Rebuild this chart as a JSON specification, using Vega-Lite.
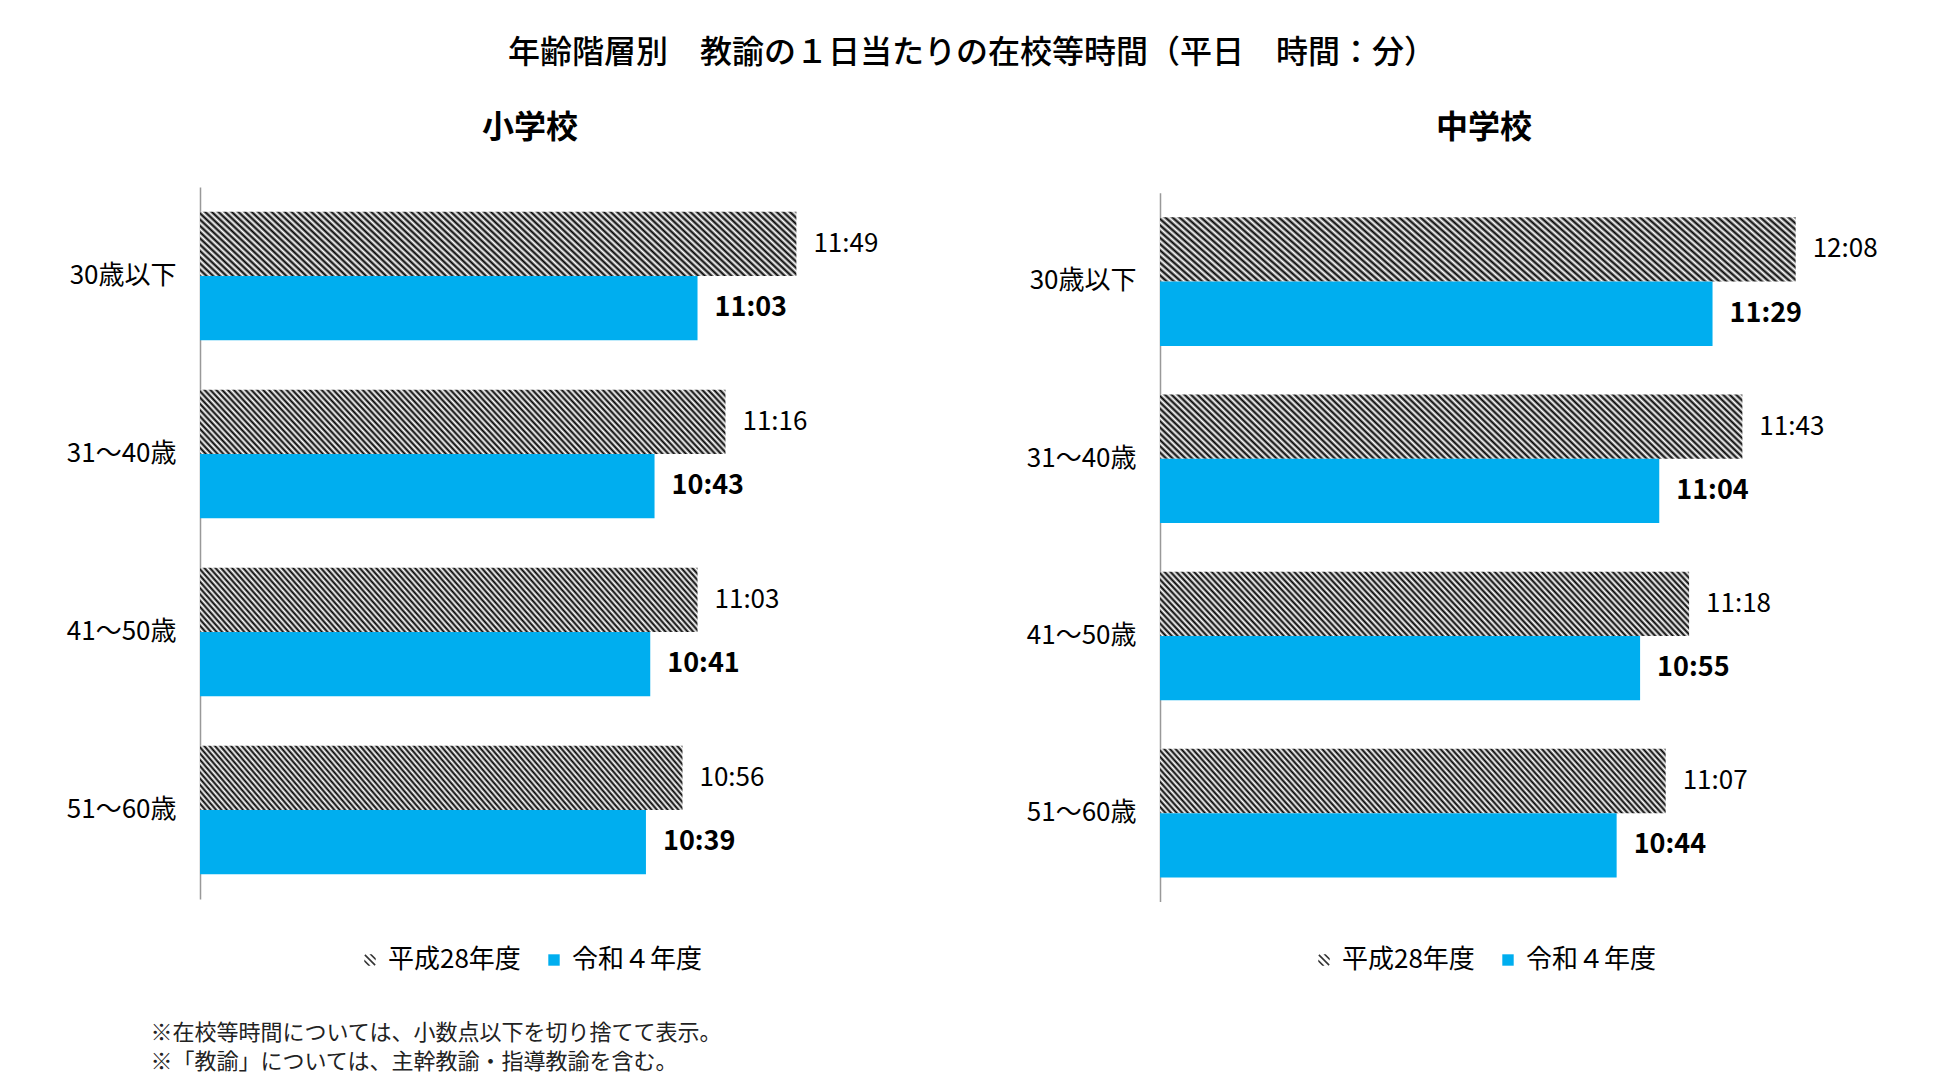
{
"$schema": "https://vega.github.io/schema/vega-lite/v6.json",
"padding": {"left": 66, "top": 37, "right": 5, "bottom": 5},
"background": "white",
"title": {"text": "年齢階層別　教諭の１日当たりの在校等時間（平日　時間：分）", "fontSize": 32, "fontWeight": 500, "offset": 42, "anchor": "middle", "color": "#000", "font": "Noto Sans CJK JP"},
"datasets": {
"elem": [
{"age": "30歳以下", "series": "平成28年度", "minutes": 709, "label": "11:49"},
{"age": "30歳以下", "series": "令和４年度", "minutes": 663, "label": "11:03"},
{"age": "31～40歳", "series": "平成28年度", "minutes": 676, "label": "11:16"},
{"age": "31～40歳", "series": "令和４年度", "minutes": 643, "label": "10:43"},
{"age": "41～50歳", "series": "平成28年度", "minutes": 663, "label": "11:03"},
{"age": "41～50歳", "series": "令和４年度", "minutes": 641, "label": "10:41"},
{"age": "51～60歳", "series": "平成28年度", "minutes": 656, "label": "10:56"},
{"age": "51～60歳", "series": "令和４年度", "minutes": 639, "label": "10:39"}
],
"mid": [
{"age": "30歳以下", "series": "平成28年度", "minutes": 728, "label": "12:08"},
{"age": "30歳以下", "series": "令和４年度", "minutes": 689, "label": "11:29"},
{"age": "31～40歳", "series": "平成28年度", "minutes": 703, "label": "11:43"},
{"age": "31～40歳", "series": "令和４年度", "minutes": 664, "label": "11:04"},
{"age": "41～50歳", "series": "平成28年度", "minutes": 678, "label": "11:18"},
{"age": "41～50歳", "series": "令和４年度", "minutes": 655, "label": "10:55"},
{"age": "51～60歳", "series": "平成28年度", "minutes": 667, "label": "11:07"},
{"age": "51～60歳", "series": "令和４年度", "minutes": 644, "label": "10:44"}
]
},
"columns": 1,
"spacing": 45,
"concat": [
{
"hconcat": [
{
"width": 660, "height": 712,
"title": {"text": "小学校", "fontSize": 32, "fontWeight": "bold", "offset": 42, "frame": "group", "anchor": "middle", "color": "#000"},
"data": {"name": "elem"},
"encoding": {
"y": {"field": "age", "type": "nominal", "sort": null, "scale": {"paddingInner": 0.2775, "paddingOuter": 0.139}, "axis": {"title": null, "ticks": false, "tickSize": 0, "labelPadding": 24, "labelFontSize": 26, "labelColor": "#000", "domainColor": "#999999", "domainWidth": 1.5, "labelFont": "Noto Sans CJK JP"}},
"yOffset": {"field": "series", "type": "nominal", "scale": {"domain": ["平成28年度", "令和４年度"], "paddingInner": 0, "paddingOuter": 0}},
"x": {"field": "minutes", "type": "quantitative", "scale": {"domain": [431.5, 738.6], "nice": false, "zero": false, "clamp": true}, "axis": null}
},
"layer": [
{"transform": [{"filter": "datum.series === '平成28年度'"}], "mark": {"type": "bar", "fill": {"gradient": "linear", "x1": 0, "y1": 1, "x2": 1.1, "y2": 0.8743, "stops": [{"offset":0,"color":"#000"},{"offset":0.005,"color":"#fff"},{"offset":0.01,"color":"#000"},{"offset":0.015,"color":"#fff"},{"offset":0.02,"color":"#000"},{"offset":0.025,"color":"#fff"},{"offset":0.03,"color":"#000"},{"offset":0.035,"color":"#fff"},{"offset":0.04,"color":"#000"},{"offset":0.045,"color":"#fff"},{"offset":0.05,"color":"#000"},{"offset":0.055,"color":"#fff"},{"offset":0.06,"color":"#000"},{"offset":0.065,"color":"#fff"},{"offset":0.07,"color":"#000"},{"offset":0.075,"color":"#fff"},{"offset":0.08,"color":"#000"},{"offset":0.085,"color":"#fff"},{"offset":0.09,"color":"#000"},{"offset":0.095,"color":"#fff"},{"offset":0.1,"color":"#000"},{"offset":0.105,"color":"#fff"},{"offset":0.11,"color":"#000"},{"offset":0.115,"color":"#fff"},{"offset":0.12,"color":"#000"},{"offset":0.125,"color":"#fff"},{"offset":0.13,"color":"#000"},{"offset":0.135,"color":"#fff"},{"offset":0.14,"color":"#000"},{"offset":0.145,"color":"#fff"},{"offset":0.15,"color":"#000"},{"offset":0.155,"color":"#fff"},{"offset":0.16,"color":"#000"},{"offset":0.165,"color":"#fff"},{"offset":0.17,"color":"#000"},{"offset":0.175,"color":"#fff"},{"offset":0.18,"color":"#000"},{"offset":0.185,"color":"#fff"},{"offset":0.19,"color":"#000"},{"offset":0.195,"color":"#fff"},{"offset":0.2,"color":"#000"},{"offset":0.205,"color":"#fff"},{"offset":0.21,"color":"#000"},{"offset":0.215,"color":"#fff"},{"offset":0.22,"color":"#000"},{"offset":0.225,"color":"#fff"},{"offset":0.23,"color":"#000"},{"offset":0.235,"color":"#fff"},{"offset":0.24,"color":"#000"},{"offset":0.245,"color":"#fff"},{"offset":0.25,"color":"#000"},{"offset":0.255,"color":"#fff"},{"offset":0.26,"color":"#000"},{"offset":0.265,"color":"#fff"},{"offset":0.27,"color":"#000"},{"offset":0.275,"color":"#fff"},{"offset":0.28,"color":"#000"},{"offset":0.285,"color":"#fff"},{"offset":0.29,"color":"#000"},{"offset":0.295,"color":"#fff"},{"offset":0.3,"color":"#000"},{"offset":0.305,"color":"#fff"},{"offset":0.31,"color":"#000"},{"offset":0.315,"color":"#fff"},{"offset":0.32,"color":"#000"},{"offset":0.325,"color":"#fff"},{"offset":0.33,"color":"#000"},{"offset":0.335,"color":"#fff"},{"offset":0.34,"color":"#000"},{"offset":0.345,"color":"#fff"},{"offset":0.35,"color":"#000"},{"offset":0.355,"color":"#fff"},{"offset":0.36,"color":"#000"},{"offset":0.365,"color":"#fff"},{"offset":0.37,"color":"#000"},{"offset":0.375,"color":"#fff"},{"offset":0.38,"color":"#000"},{"offset":0.385,"color":"#fff"},{"offset":0.39,"color":"#000"},{"offset":0.395,"color":"#fff"},{"offset":0.4,"color":"#000"},{"offset":0.405,"color":"#fff"},{"offset":0.41,"color":"#000"},{"offset":0.415,"color":"#fff"},{"offset":0.42,"color":"#000"},{"offset":0.425,"color":"#fff"},{"offset":0.43,"color":"#000"},{"offset":0.435,"color":"#fff"},{"offset":0.44,"color":"#000"},{"offset":0.445,"color":"#fff"},{"offset":0.45,"color":"#000"},{"offset":0.455,"color":"#fff"},{"offset":0.46,"color":"#000"},{"offset":0.465,"color":"#fff"},{"offset":0.47,"color":"#000"},{"offset":0.475,"color":"#fff"},{"offset":0.48,"color":"#000"},{"offset":0.485,"color":"#fff"},{"offset":0.49,"color":"#000"},{"offset":0.495,"color":"#fff"},{"offset":0.5,"color":"#000"},{"offset":0.505,"color":"#fff"},{"offset":0.51,"color":"#000"},{"offset":0.515,"color":"#fff"},{"offset":0.52,"color":"#000"},{"offset":0.525,"color":"#fff"},{"offset":0.53,"color":"#000"},{"offset":0.535,"color":"#fff"},{"offset":0.54,"color":"#000"},{"offset":0.545,"color":"#fff"},{"offset":0.55,"color":"#000"},{"offset":0.555,"color":"#fff"},{"offset":0.56,"color":"#000"},{"offset":0.565,"color":"#fff"},{"offset":0.57,"color":"#000"},{"offset":0.575,"color":"#fff"},{"offset":0.58,"color":"#000"},{"offset":0.585,"color":"#fff"},{"offset":0.59,"color":"#000"},{"offset":0.595,"color":"#fff"},{"offset":0.6,"color":"#000"},{"offset":0.605,"color":"#fff"},{"offset":0.61,"color":"#000"},{"offset":0.615,"color":"#fff"},{"offset":0.62,"color":"#000"},{"offset":0.625,"color":"#fff"},{"offset":0.63,"color":"#000"},{"offset":0.635,"color":"#fff"},{"offset":0.64,"color":"#000"},{"offset":0.645,"color":"#fff"},{"offset":0.65,"color":"#000"},{"offset":0.655,"color":"#fff"},{"offset":0.66,"color":"#000"},{"offset":0.665,"color":"#fff"},{"offset":0.67,"color":"#000"},{"offset":0.675,"color":"#fff"},{"offset":0.68,"color":"#000"},{"offset":0.685,"color":"#fff"},{"offset":0.69,"color":"#000"},{"offset":0.695,"color":"#fff"},{"offset":0.7,"color":"#000"},{"offset":0.705,"color":"#fff"},{"offset":0.71,"color":"#000"},{"offset":0.715,"color":"#fff"},{"offset":0.72,"color":"#000"},{"offset":0.725,"color":"#fff"},{"offset":0.73,"color":"#000"},{"offset":0.735,"color":"#fff"},{"offset":0.74,"color":"#000"},{"offset":0.745,"color":"#fff"},{"offset":0.75,"color":"#000"},{"offset":0.755,"color":"#fff"},{"offset":0.76,"color":"#000"},{"offset":0.765,"color":"#fff"},{"offset":0.77,"color":"#000"},{"offset":0.775,"color":"#fff"},{"offset":0.78,"color":"#000"},{"offset":0.785,"color":"#fff"},{"offset":0.79,"color":"#000"},{"offset":0.795,"color":"#fff"},{"offset":0.8,"color":"#000"},{"offset":0.805,"color":"#fff"},{"offset":0.81,"color":"#000"},{"offset":0.815,"color":"#fff"},{"offset":0.82,"color":"#000"},{"offset":0.825,"color":"#fff"},{"offset":0.83,"color":"#000"},{"offset":0.835,"color":"#fff"},{"offset":0.84,"color":"#000"},{"offset":0.845,"color":"#fff"},{"offset":0.85,"color":"#000"},{"offset":0.855,"color":"#fff"},{"offset":0.86,"color":"#000"},{"offset":0.865,"color":"#fff"},{"offset":0.87,"color":"#000"},{"offset":0.875,"color":"#fff"},{"offset":0.88,"color":"#000"},{"offset":0.885,"color":"#fff"},{"offset":0.89,"color":"#000"},{"offset":0.895,"color":"#fff"},{"offset":0.9,"color":"#000"},{"offset":0.905,"color":"#fff"},{"offset":0.91,"color":"#000"},{"offset":0.915,"color":"#fff"},{"offset":0.92,"color":"#000"},{"offset":0.925,"color":"#fff"},{"offset":0.93,"color":"#000"},{"offset":0.935,"color":"#fff"},{"offset":0.94,"color":"#000"},{"offset":0.945,"color":"#fff"},{"offset":0.95,"color":"#000"},{"offset":0.955,"color":"#fff"},{"offset":0.96,"color":"#000"},{"offset":0.965,"color":"#fff"},{"offset":0.97,"color":"#000"},{"offset":0.975,"color":"#fff"},{"offset":0.98,"color":"#000"},{"offset":0.985,"color":"#fff"},{"offset":0.99,"color":"#000"},{"offset":0.995,"color":"#fff"},{"offset":1,"color":"#000"}]}}},
{"transform": [{"filter": "datum.series === '令和４年度'"}], "mark": {"type": "bar"}, "encoding": {"color": {"field": "series", "type": "nominal", "scale": {"domain": ["平成28年度", "令和４年度"], "range": ["#333333", "#00AEEF"]}, "legend": {"orient": "bottom", "direction": "horizontal", "title": null, "labelFontSize": 26, "labelFont": "Noto Sans CJK JP", "labelColor": "#000", "symbolSize": 130, "symbolStrokeWidth": 0, "columnPadding": 20, "labelOffset": 5, "offset": 48, "encode": {"symbols": {"update": {"shape": {"signal": "datum.value === '平成28年度' ? 'M-1,-0.1L0.1,1L-0.3,1L-1,0.3ZM-1,-0.8L-0.8,-1L1,0.8L0.8,1ZM-0.1,-1L1,0.1L1,-0.3L0.3,-1Z' : 'square'"}}}}}}}},
{"transform": [{"filter": "datum.series === '平成28年度'"}], "mark": {"type": "text", "align": "left", "baseline": "middle", "dx": 17, "fontSize": 26, "font": "Noto Sans CJK JP", "color": "#000"}, "encoding": {"text": {"field": "label"}}},
{"transform": [{"filter": "datum.series === '令和４年度'"}], "mark": {"type": "text", "align": "left", "baseline": "middle", "dx": 17, "fontSize": 27, "fontWeight": "bold", "font": "Noto Sans CJK JP", "color": "#000"}, "encoding": {"text": {"field": "label"}}}
]
},
{
"width": 648, "height": 715,
"title": {"text": "中学校", "fontSize": 32, "fontWeight": "bold", "offset": 42, "frame": "group", "anchor": "middle", "color": "#000"},
"data": {"name": "mid"},
"encoding": {
"y": {"field": "age", "type": "nominal", "sort": null, "scale": {"range": [5.7, 714.5], "paddingInner": 0.2775, "paddingOuter": 0.139}, "axis": {"title": null, "ticks": false, "tickSize": 0, "labelPadding": 24, "labelFontSize": 26, "labelColor": "#000", "domainColor": "#999999", "domainWidth": 1.5, "labelFont": "Noto Sans CJK JP"}},
"yOffset": {"field": "series", "type": "nominal", "scale": {"domain": ["平成28年度", "令和４年度"], "paddingInner": 0, "paddingOuter": 0}},
"x": {"field": "minutes", "type": "quantitative", "scale": {"domain": [429.7, 733.8], "nice": false, "zero": false, "clamp": true}, "axis": null}
},
"layer": [
{"transform": [{"filter": "datum.series === '平成28年度'"}], "mark": {"type": "bar", "fill": {"gradient": "linear", "x1": 0, "y1": 1, "x2": 1.1, "y2": 0.8743, "stops": [{"offset":0,"color":"#000"},{"offset":0.005,"color":"#fff"},{"offset":0.01,"color":"#000"},{"offset":0.015,"color":"#fff"},{"offset":0.02,"color":"#000"},{"offset":0.025,"color":"#fff"},{"offset":0.03,"color":"#000"},{"offset":0.035,"color":"#fff"},{"offset":0.04,"color":"#000"},{"offset":0.045,"color":"#fff"},{"offset":0.05,"color":"#000"},{"offset":0.055,"color":"#fff"},{"offset":0.06,"color":"#000"},{"offset":0.065,"color":"#fff"},{"offset":0.07,"color":"#000"},{"offset":0.075,"color":"#fff"},{"offset":0.08,"color":"#000"},{"offset":0.085,"color":"#fff"},{"offset":0.09,"color":"#000"},{"offset":0.095,"color":"#fff"},{"offset":0.1,"color":"#000"},{"offset":0.105,"color":"#fff"},{"offset":0.11,"color":"#000"},{"offset":0.115,"color":"#fff"},{"offset":0.12,"color":"#000"},{"offset":0.125,"color":"#fff"},{"offset":0.13,"color":"#000"},{"offset":0.135,"color":"#fff"},{"offset":0.14,"color":"#000"},{"offset":0.145,"color":"#fff"},{"offset":0.15,"color":"#000"},{"offset":0.155,"color":"#fff"},{"offset":0.16,"color":"#000"},{"offset":0.165,"color":"#fff"},{"offset":0.17,"color":"#000"},{"offset":0.175,"color":"#fff"},{"offset":0.18,"color":"#000"},{"offset":0.185,"color":"#fff"},{"offset":0.19,"color":"#000"},{"offset":0.195,"color":"#fff"},{"offset":0.2,"color":"#000"},{"offset":0.205,"color":"#fff"},{"offset":0.21,"color":"#000"},{"offset":0.215,"color":"#fff"},{"offset":0.22,"color":"#000"},{"offset":0.225,"color":"#fff"},{"offset":0.23,"color":"#000"},{"offset":0.235,"color":"#fff"},{"offset":0.24,"color":"#000"},{"offset":0.245,"color":"#fff"},{"offset":0.25,"color":"#000"},{"offset":0.255,"color":"#fff"},{"offset":0.26,"color":"#000"},{"offset":0.265,"color":"#fff"},{"offset":0.27,"color":"#000"},{"offset":0.275,"color":"#fff"},{"offset":0.28,"color":"#000"},{"offset":0.285,"color":"#fff"},{"offset":0.29,"color":"#000"},{"offset":0.295,"color":"#fff"},{"offset":0.3,"color":"#000"},{"offset":0.305,"color":"#fff"},{"offset":0.31,"color":"#000"},{"offset":0.315,"color":"#fff"},{"offset":0.32,"color":"#000"},{"offset":0.325,"color":"#fff"},{"offset":0.33,"color":"#000"},{"offset":0.335,"color":"#fff"},{"offset":0.34,"color":"#000"},{"offset":0.345,"color":"#fff"},{"offset":0.35,"color":"#000"},{"offset":0.355,"color":"#fff"},{"offset":0.36,"color":"#000"},{"offset":0.365,"color":"#fff"},{"offset":0.37,"color":"#000"},{"offset":0.375,"color":"#fff"},{"offset":0.38,"color":"#000"},{"offset":0.385,"color":"#fff"},{"offset":0.39,"color":"#000"},{"offset":0.395,"color":"#fff"},{"offset":0.4,"color":"#000"},{"offset":0.405,"color":"#fff"},{"offset":0.41,"color":"#000"},{"offset":0.415,"color":"#fff"},{"offset":0.42,"color":"#000"},{"offset":0.425,"color":"#fff"},{"offset":0.43,"color":"#000"},{"offset":0.435,"color":"#fff"},{"offset":0.44,"color":"#000"},{"offset":0.445,"color":"#fff"},{"offset":0.45,"color":"#000"},{"offset":0.455,"color":"#fff"},{"offset":0.46,"color":"#000"},{"offset":0.465,"color":"#fff"},{"offset":0.47,"color":"#000"},{"offset":0.475,"color":"#fff"},{"offset":0.48,"color":"#000"},{"offset":0.485,"color":"#fff"},{"offset":0.49,"color":"#000"},{"offset":0.495,"color":"#fff"},{"offset":0.5,"color":"#000"},{"offset":0.505,"color":"#fff"},{"offset":0.51,"color":"#000"},{"offset":0.515,"color":"#fff"},{"offset":0.52,"color":"#000"},{"offset":0.525,"color":"#fff"},{"offset":0.53,"color":"#000"},{"offset":0.535,"color":"#fff"},{"offset":0.54,"color":"#000"},{"offset":0.545,"color":"#fff"},{"offset":0.55,"color":"#000"},{"offset":0.555,"color":"#fff"},{"offset":0.56,"color":"#000"},{"offset":0.565,"color":"#fff"},{"offset":0.57,"color":"#000"},{"offset":0.575,"color":"#fff"},{"offset":0.58,"color":"#000"},{"offset":0.585,"color":"#fff"},{"offset":0.59,"color":"#000"},{"offset":0.595,"color":"#fff"},{"offset":0.6,"color":"#000"},{"offset":0.605,"color":"#fff"},{"offset":0.61,"color":"#000"},{"offset":0.615,"color":"#fff"},{"offset":0.62,"color":"#000"},{"offset":0.625,"color":"#fff"},{"offset":0.63,"color":"#000"},{"offset":0.635,"color":"#fff"},{"offset":0.64,"color":"#000"},{"offset":0.645,"color":"#fff"},{"offset":0.65,"color":"#000"},{"offset":0.655,"color":"#fff"},{"offset":0.66,"color":"#000"},{"offset":0.665,"color":"#fff"},{"offset":0.67,"color":"#000"},{"offset":0.675,"color":"#fff"},{"offset":0.68,"color":"#000"},{"offset":0.685,"color":"#fff"},{"offset":0.69,"color":"#000"},{"offset":0.695,"color":"#fff"},{"offset":0.7,"color":"#000"},{"offset":0.705,"color":"#fff"},{"offset":0.71,"color":"#000"},{"offset":0.715,"color":"#fff"},{"offset":0.72,"color":"#000"},{"offset":0.725,"color":"#fff"},{"offset":0.73,"color":"#000"},{"offset":0.735,"color":"#fff"},{"offset":0.74,"color":"#000"},{"offset":0.745,"color":"#fff"},{"offset":0.75,"color":"#000"},{"offset":0.755,"color":"#fff"},{"offset":0.76,"color":"#000"},{"offset":0.765,"color":"#fff"},{"offset":0.77,"color":"#000"},{"offset":0.775,"color":"#fff"},{"offset":0.78,"color":"#000"},{"offset":0.785,"color":"#fff"},{"offset":0.79,"color":"#000"},{"offset":0.795,"color":"#fff"},{"offset":0.8,"color":"#000"},{"offset":0.805,"color":"#fff"},{"offset":0.81,"color":"#000"},{"offset":0.815,"color":"#fff"},{"offset":0.82,"color":"#000"},{"offset":0.825,"color":"#fff"},{"offset":0.83,"color":"#000"},{"offset":0.835,"color":"#fff"},{"offset":0.84,"color":"#000"},{"offset":0.845,"color":"#fff"},{"offset":0.85,"color":"#000"},{"offset":0.855,"color":"#fff"},{"offset":0.86,"color":"#000"},{"offset":0.865,"color":"#fff"},{"offset":0.87,"color":"#000"},{"offset":0.875,"color":"#fff"},{"offset":0.88,"color":"#000"},{"offset":0.885,"color":"#fff"},{"offset":0.89,"color":"#000"},{"offset":0.895,"color":"#fff"},{"offset":0.9,"color":"#000"},{"offset":0.905,"color":"#fff"},{"offset":0.91,"color":"#000"},{"offset":0.915,"color":"#fff"},{"offset":0.92,"color":"#000"},{"offset":0.925,"color":"#fff"},{"offset":0.93,"color":"#000"},{"offset":0.935,"color":"#fff"},{"offset":0.94,"color":"#000"},{"offset":0.945,"color":"#fff"},{"offset":0.95,"color":"#000"},{"offset":0.955,"color":"#fff"},{"offset":0.96,"color":"#000"},{"offset":0.965,"color":"#fff"},{"offset":0.97,"color":"#000"},{"offset":0.975,"color":"#fff"},{"offset":0.98,"color":"#000"},{"offset":0.985,"color":"#fff"},{"offset":0.99,"color":"#000"},{"offset":0.995,"color":"#fff"},{"offset":1,"color":"#000"}]}}},
{"transform": [{"filter": "datum.series === '令和４年度'"}], "mark": {"type": "bar"}, "encoding": {"color": {"field": "series", "type": "nominal", "scale": {"domain": ["平成28年度", "令和４年度"], "range": ["#333333", "#00AEEF"]}, "legend": {"orient": "bottom", "direction": "horizontal", "title": null, "labelFontSize": 26, "labelFont": "Noto Sans CJK JP", "labelColor": "#000", "symbolSize": 130, "symbolStrokeWidth": 0, "columnPadding": 20, "labelOffset": 5, "offset": 45, "encode": {"symbols": {"update": {"shape": {"signal": "datum.value === '平成28年度' ? 'M-1,-0.1L0.1,1L-0.3,1L-1,0.3ZM-1,-0.8L-0.8,-1L1,0.8L0.8,1ZM-0.1,-1L1,0.1L1,-0.3L0.3,-1Z' : 'square'"}}}}}}}},
{"transform": [{"filter": "datum.series === '平成28年度'"}], "mark": {"type": "text", "align": "left", "baseline": "middle", "dx": 17, "fontSize": 26, "font": "Noto Sans CJK JP", "color": "#000"}, "encoding": {"text": {"field": "label"}}},
{"transform": [{"filter": "datum.series === '令和４年度'"}], "mark": {"type": "text", "align": "left", "baseline": "middle", "dx": 17, "fontSize": 27, "fontWeight": "bold", "font": "Noto Sans CJK JP", "color": "#000"}, "encoding": {"text": {"field": "label"}}}
]
}
],
"spacing": 147,
"resolve": {"scale": {"color": "independent"}, "legend": {"color": "independent"}}
},
{
"width": 1, "height": 58,
"data": {"values": [{"note": "※在校等時間については、小数点以下を切り捨てて表示。"}, {"note": "※「教諭」については、主幹教諭・指導教諭を含む。"}]},
"mark": {"type": "text", "align": "left", "baseline": "middle", "dx": -50, "fontSize": 22, "font": "Noto Sans CJK JP", "color": "#222"},
"encoding": {"y": {"field": "note", "type": "nominal", "sort": null, "axis": null}, "text": {"field": "note"}}
}
],
"config": {"font": "Noto Sans CJK JP", "view": {"stroke": null}, "legend": {"layout": {"bottom": {"anchor": "middle"}}}}
}
